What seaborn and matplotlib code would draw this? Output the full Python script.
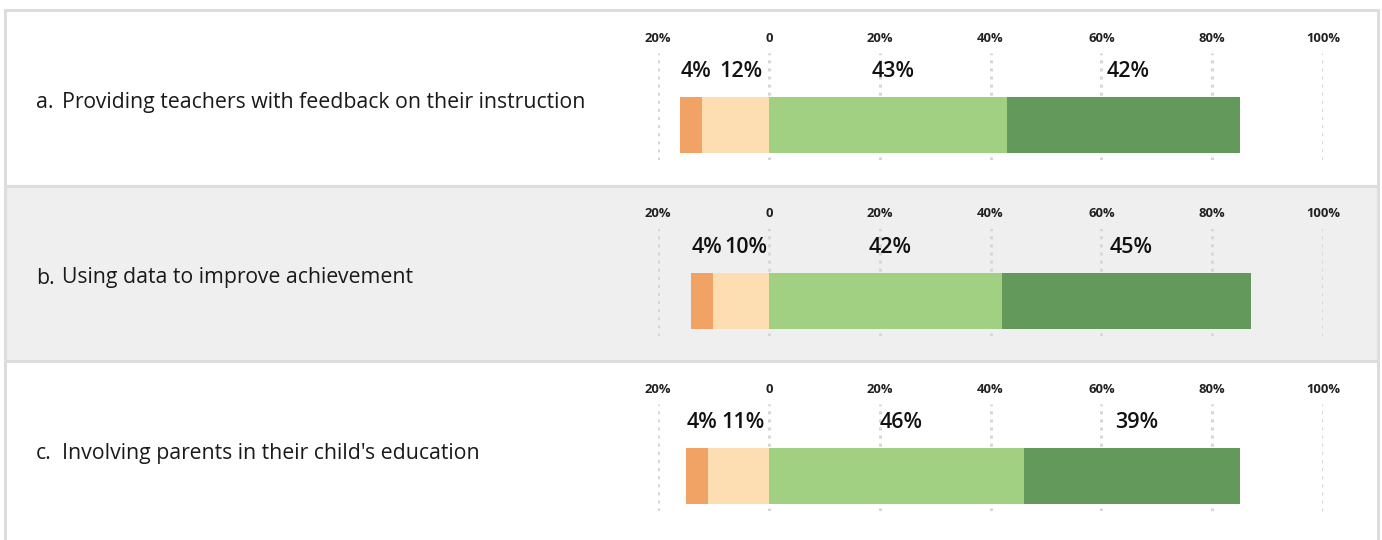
import matplotlib
matplotlib.use('Agg')
import matplotlib.pyplot as plt
import seaborn as sns
import pandas as pd
from matplotlib.patches import Rectangle
from matplotlib import font_manager as fm

# ---- data ----
letters = ['a.', 'b.', 'c.']
items = ['Providing teachers with feedback on their instruction',
         'Using data to improve achievement',
         "Involving parents in their child's education"]
strongly_neg = [4, 4, 4]
neg = [12, 10, 11]
pos = [43, 42, 46]
strongly_pos = [42, 45, 39]
tick_values = [-20, 0, 20, 40, 60, 80, 100]
tick_labels = ['20%', '0', '20%', '40%', '60%', '80%', '100%']

c_sneg = '#F0A365'
c_neg = '#FDDEB2'
c_pos = '#A1D083'
c_spos = '#639A5B'

sns.set_theme(style='white')
plt.rcParams['font.family'] = ['Open Sans', 'DejaVu Sans']


def font_file(name):
    for f in fm.fontManager.ttflist:
        if f.fname.split('/')[-1] == name:
            return f.fname
    return None


f_reg = font_file('OpenSans-Regular.ttf')
f_semi = font_file('OpenSans-Semibold.ttf')
f_bold = font_file('OpenSans-Bold.ttf')


def fp(path, size, weight):
    if path:
        return fm.FontProperties(fname=path, size=size)
    return fm.FontProperties(family='Open Sans', weight=weight, size=size)


fp_label = fp(f_reg, 15.3, 'normal')
fp_value = fp(f_semi, 15.5, 'semibold')
fp_tick = fp(f_bold, 9.4, 'bold')

W, H = 1382, 540
fig = plt.figure(figsize=(W / 100, H / 100), dpi=100)
fig.patch.set_facecolor('white')


def fx(px):
    return px / W


def fy(py):
    return 1 - py / H


row_top0 = 10
row_h = 175.5
bgs = ['white', '#efefef', 'white']
border = '#dddddd'

for i in range(3):
    top = row_top0 + i * row_h
    h = row_h if i < 2 else row_h + 20
    fig.add_artist(Rectangle((fx(5), fy(top + h)), fx(1378) - fx(5), h / H,
                             transform=fig.transFigure, facecolor=bgs[i],
                             edgecolor=border, linewidth=2.2, zorder=0))

    # row label
    fig.text(fx(36), fy(top + 98), letters[i], fontproperties=fp_label,
             color='#1a1a1a', va='baseline', ha='left')
    fig.text(fx(62), fy(top + 98), items[i], fontproperties=fp_label,
             color='#1a1a1a', va='baseline', ha='left')

    ax = fig.add_axes([fx(658), fy(top + 150), fx(1323) - fx(658), 107 / H])
    ax.set_facecolor('none')

    left_total = -(strongly_neg[i] + neg[i])
    right_total = pos[i] + strongly_pos[i]
    cat = [items[i]]
    for val, col in [(left_total, c_sneg), (-neg[i], c_neg),
                     (right_total, c_spos), (pos[i], c_pos)]:
        df = pd.DataFrame({'item': cat, 'value': [val]})
        sns.barplot(data=df, x='value', y='item', orient='h', color=col,
                    saturation=1, width=0.5, linewidth=0, ax=ax, zorder=3)

    ax.set_xlim(-20, 100)
    ax.set_ylim(0.3125, -0.643)
    ax.set_xticks(tick_values)
    ax.set_xticklabels(tick_labels)
    ax.xaxis.tick_top()
    ax.tick_params(axis='x', length=0, pad=5.8, labelcolor='#222222')
    for lab in ax.get_xticklabels():
        lab.set_fontproperties(fp_tick)
    ax.set_yticks([])
    ax.set_xlabel('')
    ax.set_ylabel('')
    ax.xaxis.grid(True, linestyle=(0, (1, 1.7)), color='#d6d6d6', linewidth=2.16)
    ax.yaxis.grid(False)
    ax.set_axisbelow(True)
    for s in ax.spines.values():
        s.set_visible(False)

    # value labels
    segs = [
        (-(neg[i] + strongly_neg[i] / 2), strongly_neg[i]),
        (-neg[i] / 2, neg[i]),
        (pos[i] / 2, pos[i]),
        (pos[i] + strongly_pos[i] / 2, strongly_pos[i]),
    ]
    for cx, v in segs:
        ax.text(cx + 0.9, -0.426, f'{v}%', ha='center', va='baseline',
                fontproperties=fp_value, color='#111111', zorder=5)

fig.savefig('out.png', dpi=100, facecolor='white')
